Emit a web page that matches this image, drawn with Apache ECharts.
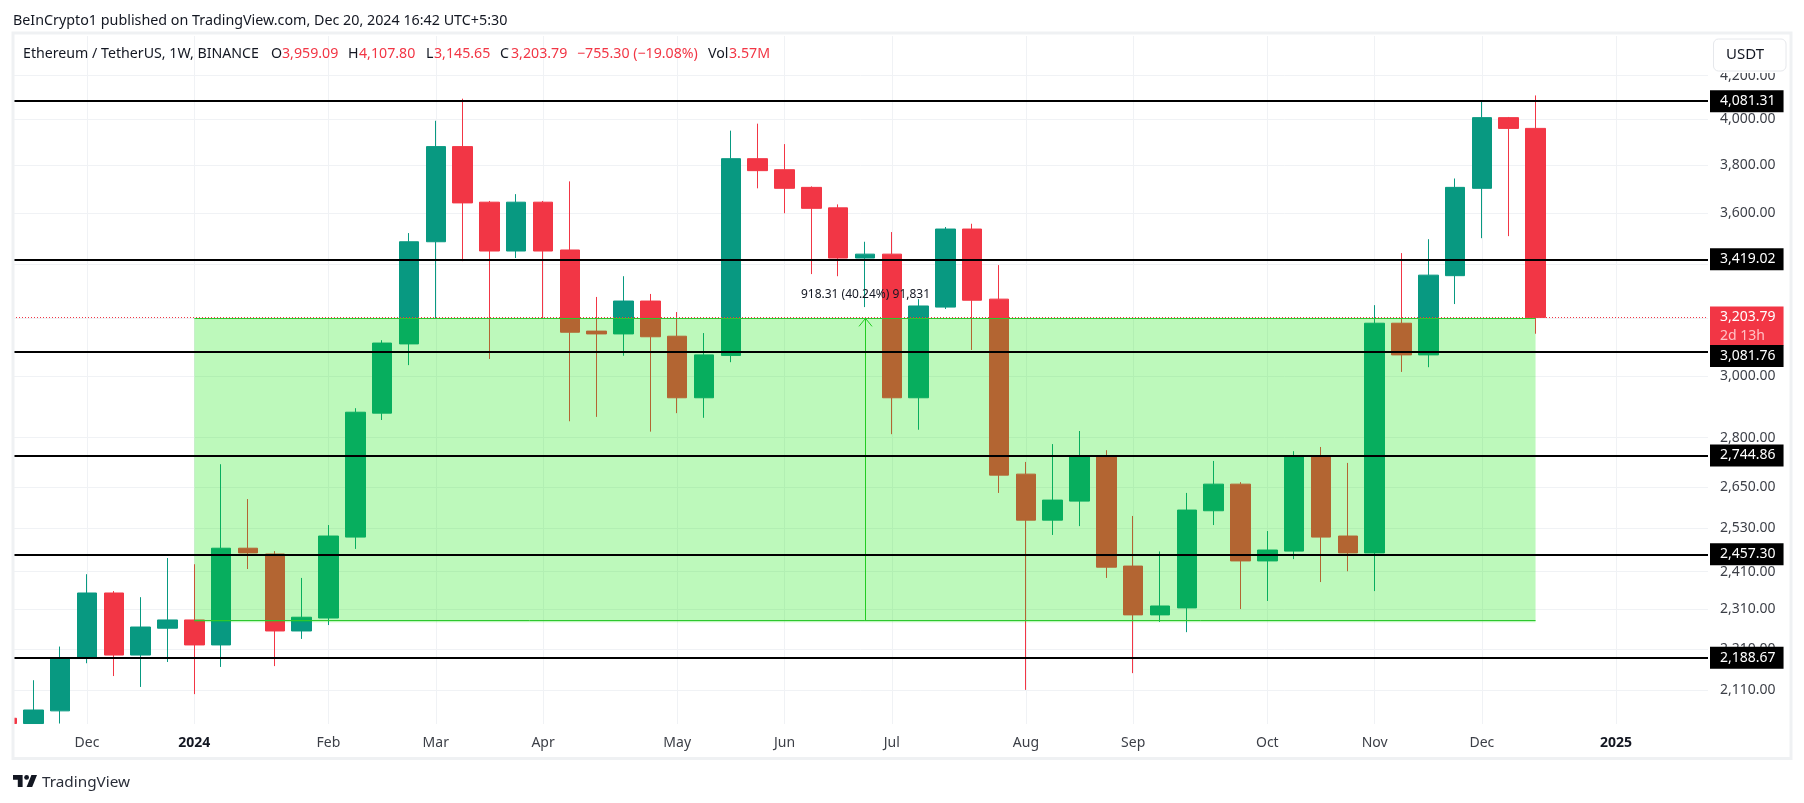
<!DOCTYPE html>
<html><head><meta charset="utf-8">
<style>html,body{margin:0;padding:0;background:#fff}#c{width:1804px;height:803px}</style>
<script src="https://cdn.jsdelivr.net/npm/echarts@6/dist/echarts.min.js"></script>
</head><body><div id="c"></div>
<script>
const weeks = ['2023-11-13','2023-11-20','2023-11-27','2023-12-04','2023-12-11','2023-12-18','2023-12-25','2024-01-01','2024-01-08','2024-01-15','2024-01-22','2024-01-29','2024-02-05','2024-02-12','2024-02-19','2024-02-26','2024-03-04','2024-03-11','2024-03-18','2024-03-25','2024-04-01','2024-04-08','2024-04-15','2024-04-22','2024-04-29','2024-05-06','2024-05-13','2024-05-20','2024-05-27','2024-06-03','2024-06-10','2024-06-17','2024-06-24','2024-07-01','2024-07-08','2024-07-15','2024-07-22','2024-07-29','2024-08-05','2024-08-12','2024-08-19','2024-08-26','2024-09-02','2024-09-09','2024-09-16','2024-09-23','2024-09-30','2024-10-07','2024-10-14','2024-10-21','2024-10-28','2024-11-04','2024-11-11','2024-11-18','2024-11-25','2024-12-02','2024-12-09','2024-12-16'];
const opens  = [2045,2033,2062,2190,2353,2195,2262,2283,2220,2474,2458,2255,2288,2505,2878,3110,3487,3879,3645,3451,3645,3455,3155,3145,3263,3137,2928,3070,3827,3780,3706,3622,3424,3439,2928,3241,3537,3270,2688,2553,2608,2743,2425,2296,2314,2580,2658,2439,2466,2743,2508,2461,3183,3072,3357,3702,4007,3959.09];
const closes = [2033,2064,2189,2353,2195,2265,2283,2220,2474,2461,2255,2290,2508,2881,3113,3487,3879,3642,3451,3645,3451,3151,3145,3263,3135,2928,3072,3827,3776,3702,3620,3424,3439,2928,3245,3537,3266,2685,2553,2611,2743,2422,2296,2319,2582,2658,2439,2469,2743,2505,2461,3183,3072,3359,3706,4007,3959,3203.79];
const lows   = [2033,2033,2033,2175,2144,2118,2178,2101,2166,2417,2168,2235,2270,2472,2856,3037,3201,3412,3058,3424,3201,2852,2866,3069,2819,2878,2863,3047,3702,3600,3363,3355,3241,2811,2825,3234,3089,2632,2111,2511,2536,2393,2151,2278,2252,2539,2311,2332,2444,2382,2411,2358,3014,3030,3252,3501,3509,3145.65];
const highs  = [2050,2134,2216,2403,2358,2342,2447,2430,2718,2614,2466,2393,2539,2894,3123,3521,3993,4093,3650,3678,3650,3731,3278,3355,3289,3223,3148,3949,3980,3890,3710,3636,3487,3525,3270,3545,3558,3397,2725,2780,2821,2761,2565,2465,2632,2728,2664,2522,2758,2771,2722,3248,3443,3497,3743,4081,4010,4107.80];

const yTicks = [4200,4000,3800,3600,3400,3200,3000,2800,2650,2530,2410,2310,2210,2110];
const xTickDates = ['2023-12-04','2024-01-01','2024-02-05','2024-03-04','2024-04-01','2024-05-06','2024-06-03','2024-07-01','2024-08-05','2024-09-02','2024-10-07','2024-11-04','2024-12-02','2025-01-06'];
const xTickLabels = ['Dec','2024','Feb','Mar','Apr','May','Jun','Jul','Aug','Sep','Oct','Nov','Dec','2025'];
const levels = [4081.31,3419.02,3081.76,2744.86,2457.30,2188.67];
const levelLabelShift = [0,0,4,0,0,0];
const lastPrice = 3203.79;
const countdown = '2d 13h';
const rangeBox = ['2024-01-01','2024-12-16',3200.31,2282];
const rangeArrowDate = '2024-06-24';
const rangeText = '918.31 (40.24%) 91,831';
const headerTop = 'BeInCrypto1 published on TradingView.com, Dec 20, 2024 16:42 UTC+5:30';
const legendParts = [
  ['Ethereum / TetherUS, 1W, BINANCE',23,0],['O',271,0],['3,959.09',282,1],['H',348,0],['4,107.80',359,1],
  ['L',426,0],['3,145.65',434,1],['C',500,0],['3,203.79',511,1],['−755.30 (−19.08%)',577,1],['Vol',708,0],['3.57M',729,1]
];
const FONT = '"Noto Sans","Open Sans",sans-serif';
const UP = '#089981', DOWN = '#F23645', INK = '#131722', AXIS = '#3c3f47', GRID = '#f0f2f5';
const ts = d => Date.parse(d + 'T00:00:00Z');
const fmt = v => v.toLocaleString('en-US',{minimumFractionDigits:2,maximumFractionDigits:2});

const candleData = weeks.map((w,i)=>[ts(w),opens[i],closes[i],lows[i],highs[i]]);
const xTickVals = xTickDates.map(ts);

const chart = echarts.init(document.getElementById('c'),null,{renderer:'canvas'});
const legendGraphics = legendParts.map(p=>({type:'text',x:p[1],y:54,z:30,style:{text:p[0],font:'14.2px '+FONT,fill:p[2]?DOWN:INK,verticalAlign:'middle'}}));
const logoXf = {x:11.4,y:770.2,scaleX:.8,scaleY:.8,z:30,silent:true};

chart.setOption({
  animation:false,
  backgroundColor:'#fff',
  textStyle:{fontFamily:FONT},
  grid:{left:13,right:96,top:36,bottom:79},
  xAxis:{type:'value',scale:true,min:Date.parse('2023-11-14T16:20:00Z'),max:Date.parse('2025-01-30T00:00:00Z'),
    axisLine:{show:false},axisTick:{show:false,customValues:xTickVals},
    splitLine:{show:true,lineStyle:{color:GRID,width:1}},
    axisLabel:{customValues:xTickVals,margin:12,hideOverlap:false,
      formatter:v=>{const i=xTickVals.indexOf(+v);const s=xTickLabels[i]||'';return /^\d/.test(s)?'{b|'+s+'}':s;},
      color:AXIS,fontSize:14,fontFamily:FONT,rich:{b:{fontWeight:'bold',fontSize:14,color:INK,fontFamily:FONT}}}},
  yAxis:{type:'log',logBase:10,position:'right',min:2031.9,max:4390.6,
    axisLine:{show:false},axisTick:{show:false,customValues:yTicks},
    splitLine:{show:true,lineStyle:{color:GRID,width:1}},
    axisLabel:{customValues:yTicks,margin:12,padding:[3,0,0,0],color:AXIS,fontSize:14,fontFamily:FONT,hideOverlap:false,showMinLabel:true,showMaxLabel:true,formatter:v=>fmt(+v)}},
  graphic:[
    {type:'rect',z:20,silent:true,shape:{x:0,y:34,width:12,height:720},style:{fill:'#fff'}},
    {type:'rect',z:21,silent:true,shape:{x:13,y:33,width:1778,height:725.5},style:{fill:'none',stroke:'#eff1f3',lineWidth:3}},
    {type:'text',x:13,y:21,z:30,style:{text:headerTop,font:'14.3px '+FONT,fill:INK,verticalAlign:'middle'}},
    ...legendGraphics,
    {type:'rect',z:24,silent:true,shape:{x:1712,y:68,width:76,height:5},style:{fill:'#fff'}},
    {type:'rect',z:25,shape:{x:1713.5,y:39,width:72.5,height:32,r:5},style:{fill:'#fff',stroke:'#e6e8ec',lineWidth:1}},
    {type:'text',x:1726,y:55,z:30,style:{text:'USDT',font:'15px '+FONT,fill:INK,verticalAlign:'middle'}},
    {type:'polygon',...logoXf,shape:{points:[[2,6],[14,6],[14,21],[8,21],[8,12],[2,12]]},style:{fill:INK}},
    {type:'polygon',...logoXf,shape:{points:[[26,21],[19,21],[25,6],[32,6]]},style:{fill:INK}},
    {type:'circle',...logoXf,shape:{cx:19,cy:9,r:3},style:{fill:INK}},
    {type:'text',x:42,y:782.5,z:30,style:{text:'TradingView',font:'15.3px '+FONT,fill:'#2a2e39',verticalAlign:'middle'}}
  ],
  series:[
    {type:'candlestick',z:2,barWidth:20,clip:true,data:candleData,encode:{x:0,y:[1,2,3,4]},
      itemStyle:{color:UP,color0:DOWN,borderColor:UP,borderColor0:DOWN,borderWidth:1}},
    {type:'custom',z:3,clip:false,silent:true,
      data:[[ts(rangeBox[0]),ts(rangeBox[1]),rangeBox[2],rangeBox[3],ts(rangeArrowDate)]],
      encode:{x:[0,1,4],y:[2,3]},
      renderItem:(p,api)=>{
        const a=api.coord([api.value(0),api.value(2)]), b=api.coord([api.value(1),api.value(3)]);
        const ax=Math.round(api.coord([api.value(4),api.value(2)])[0])+.5;
        const line='#2fc62f';
        const st={stroke:line,lineWidth:1,fill:'none'};
        return {type:'group',children:[
          {type:'rect',shape:{x:a[0],y:a[1],width:b[0]-a[0],height:b[1]-a[1]+2},style:{fill:'rgba(8,232,0,0.265)'}},
          {type:'line',shape:{x1:a[0],y1:Math.round(a[1])+.5,x2:b[0],y2:Math.round(a[1])+.5},style:st},
          {type:'line',shape:{x1:a[0],y1:Math.round(b[1])+.5,x2:b[0],y2:Math.round(b[1])+.5},style:st},
          {type:'line',shape:{x1:ax,y1:a[1],x2:ax,y2:b[1]},style:{stroke:'#22cc22',lineWidth:1}},
          {type:'polyline',shape:{points:[[ax-6.5,a[1]+8],[ax,a[1]],[ax+6.5,a[1]+8]]},style:{stroke:'#22cc22',lineWidth:1,fill:'none'}},
          {type:'text',x:ax,y:a[1]-24,style:{text:rangeText,font:'12px '+FONT,fill:INK,align:'center',verticalAlign:'middle'}}
        ]};
      }},
    {type:'line',z:5,data:[],silent:true,clip:false,showSymbol:false,
      markLine:{silent:true,symbol:'none',animation:false,z:5,
        data:[
          {yAxis:lastPrice,lineStyle:{color:DOWN,type:[1,2],width:1},
            label:{position:'end',distance:2,offset:[0,8.7],formatter:'{a|'+fmt(lastPrice)+'}\n{b|'+countdown+'}',backgroundColor:DOWN,padding:[1,8,0,10],
              rich:{a:{color:'#fff',fontSize:14,fontFamily:FONT,lineHeight:19},b:{color:'#ffc2c6',fontSize:14,fontFamily:FONT,lineHeight:19}}}},
          ...levels.map((v,i)=>({yAxis:v,lineStyle:{color:'#000',type:'solid',width:2},
            label:{position:'end',distance:2,offset:[0,levelLabelShift[i]],formatter:fmt(v),color:'#fff',fontSize:14,fontFamily:FONT,backgroundColor:'#000',padding:[4,8,3,10],lineHeight:15}}))
        ]}}
  ]
});
</script></body></html>
